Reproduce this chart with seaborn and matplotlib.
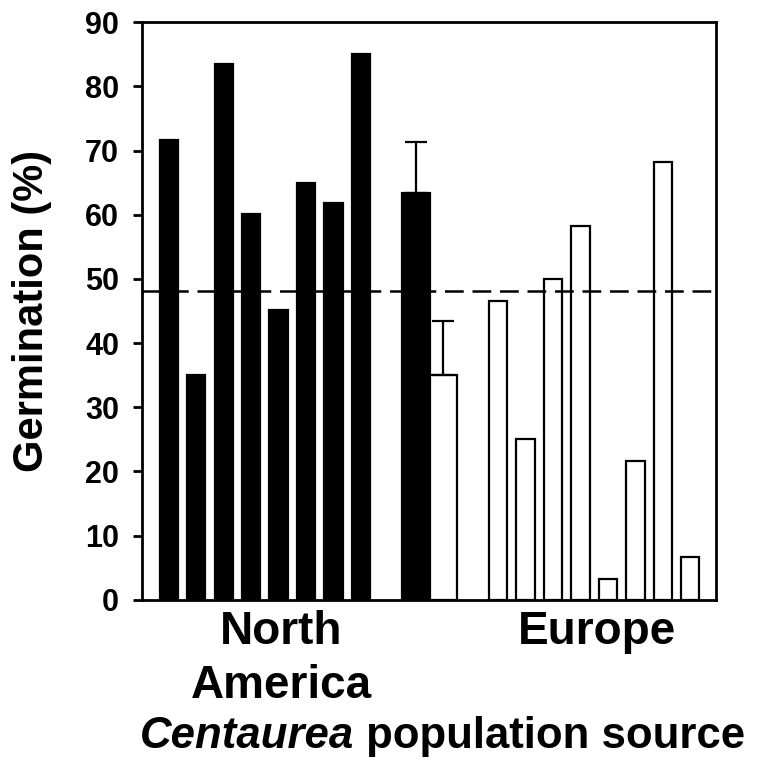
import numpy as np
import pandas as pd
import seaborn as sns
import matplotlib.pyplot as plt

sns.set_style('white')
plt.rcParams['font.family'] = ['Liberation Sans', 'DejaVu Sans']
plt.rcParams['font.weight'] = 'bold'
for key in ['text.color', 'axes.labelcolor', 'xtick.color', 'ytick.color']:
    plt.rcParams[key] = 'black'

# germination (%) of each population
north_america = [71.7, 35.0, 83.5, 60.1, 45.1, 65.0, 61.8, 85.1]
europe = [46.6, 25.0, 50.0, 58.3, 3.3, 21.6, 68.3, 6.6]
region_means = [63.4, 35.0]
region_se = [8.0, 8.4]
overall_mean = 48.2
regions = ['North\nAmerica', 'Europe']

# layout: 8 NA bars, gap, two mean bars, gap, 8 EU bars
na_pos = np.arange(len(north_america))
mean_pos = na_pos[-1] + 2 + np.arange(len(region_means))
eu_pos = mean_pos[-1] + 2 + np.arange(len(europe))

pops = pd.DataFrame({
    'pos': np.concatenate([na_pos, eu_pos]),
    'germ': north_america + europe,
    'region': ['NA'] * len(north_america) + ['EU'] * len(europe),
})
means = pd.DataFrame({'pos': mean_pos, 'germ': region_means, 'region': ['NA', 'EU']})
pal = {'NA': 'black', 'EU': 'white'}

fig = plt.figure(figsize=(7.59, 7.70), dpi=100)
ax = fig.add_axes([0.187, 0.221, 0.756, 0.750])

sns.barplot(data=pops, x='pos', y='germ', hue='region', palette=pal, native_scale=True,
            dodge=False, width=0.67, saturation=1, edgecolor='black', linewidth=1.6,
            legend=False, ax=ax)
sns.barplot(data=means, x='pos', y='germ', hue='region', palette=pal, native_scale=True,
            dodge=False, width=1.0, saturation=1, edgecolor='black', linewidth=1.6,
            legend=False, ax=ax)
ax.errorbar(mean_pos, region_means, yerr=[np.zeros(len(region_se)), region_se],
            fmt='none', ecolor='black', elinewidth=1.6, capsize=8, capthick=1.6, zorder=1)

ax.axhline(overall_mean, color='black', lw=1.8, ls=(0, (7.5, 3.5)), zorder=5)

ax.set_xlim(-0.98, eu_pos[-1] + 0.93)
ax.set_ylim(0, 90)
ax.set_yticks(np.arange(0, 91, 10))
ax.tick_params(axis='y', direction='out', length=6.5, width=2, labelsize=22, pad=10, left=True)
ax.set_xticks([4.1, 15.6])
ax.set_xticklabels(regions, fontsize=33, fontweight='bold', linespacing=1.3)
ax.tick_params(axis='x', length=0, pad=7.5)
for lab in ax.get_yticklabels():
    lab.set_fontweight('bold')
ax.set_xlabel('')
ax.set_ylabel('Germination (%)', fontsize=30, fontweight='bold', labelpad=24)
for s in ax.spines.values():
    s.set_linewidth(2)
    s.set_color('black')

t1 = fig.text(140 / 759, 1 - 748 / 770, 'Centaurea', fontsize=31.5, fontweight='bold',
              fontstyle='italic', va='baseline', ha='left')
fig.canvas.draw()
ax.annotate(' population source', xy=(1, 0), xycoords=t1, fontsize=31.5,
            fontweight='bold', va='bottom', ha='left')

fig.savefig('out.png', dpi=100)
